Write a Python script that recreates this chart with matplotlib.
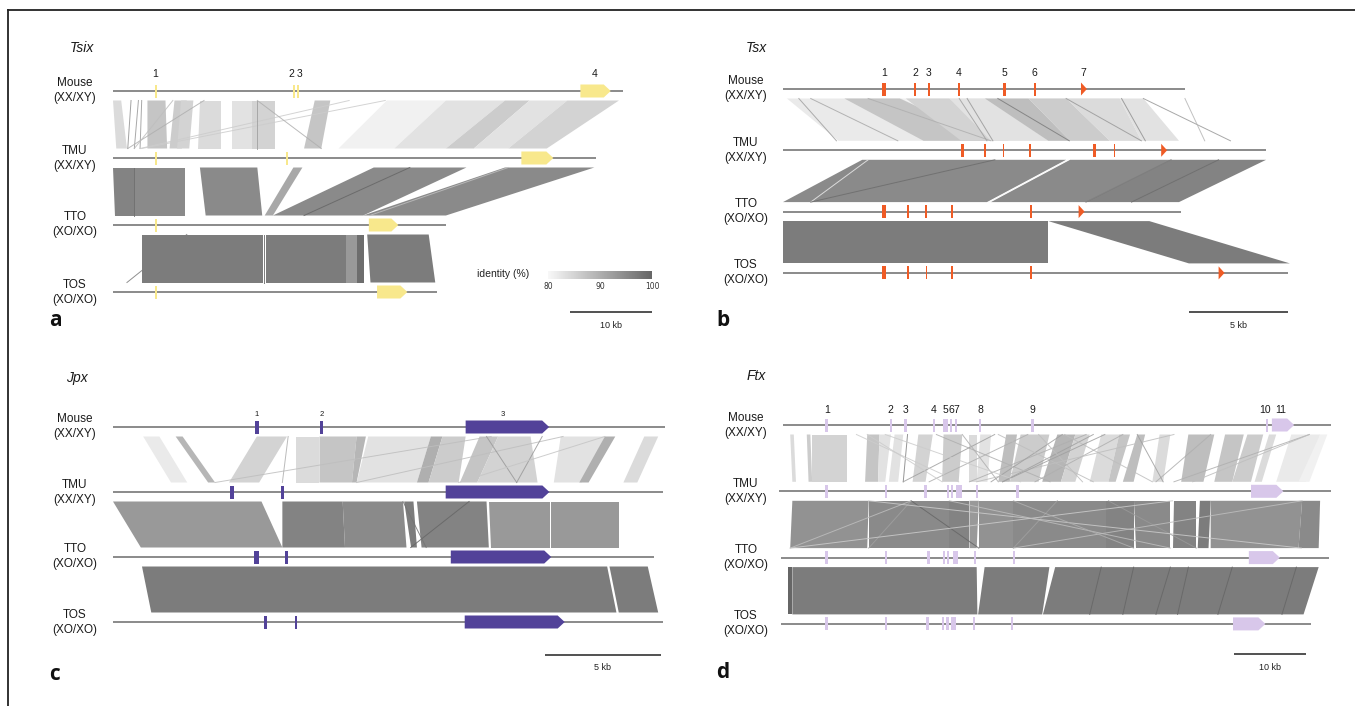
import matplotlib
matplotlib.use("Agg")
import matplotlib.pyplot as plt
from matplotlib.colors import LinearSegmentedColormap, Normalize
from matplotlib.patches import Polygon
from matplotlib.lines import Line2D
from matplotlib.colorbar import ColorbarBase

W, H = 1355, 706

species = ['Mouse', 'TMU', 'TTO', 'TOS']
karyotypes = ['(XX/XY)', '(XX/XY)', '(XO/XO)', '(XO/XO)']

# ---------------- a: Tsix (kb) ----------------
tsix_start = [0, 0, 0, 0]
tsix_len = [62.2, 58.9, 40.6, 39.5]
tsix_exons = [[(5.2, .25), (22.1, .25), (22.6, .25)],
              [(5.2, .25), (21.2, .3)],
              [(5.2, .25)],
              [(5.2, .25)]]
tsix_gene = [(57.0, 60.7), (49.8, 53.7), (31.2, 34.8), (32.2, 35.9)]
tsix_exon_names = ['1', '2', '3', '4']
tsix_exon_name_pos = [5.2, 21.8, 22.8, 58.7]
# (top start, top end, bottom start, bottom end, identity %)
tsix_bands = [
    [(0.0, 1.0, 0.4, 1.7, 84), (4.2, 6.4, 4.2, 6.6, 87), (7.5, 9.0, 6.9, 8.4, 86),
     (8.3, 9.8, 7.8, 9.3, 85), (10.6, 13.2, 10.4, 13.2, 84), (14.5, 17.0, 14.5, 17.0, 83),
     (17.0, 19.7, 17.0, 19.7, 85), (24.6, 26.5, 23.3, 25.4, 87),
     (33.4, 40.6, 27.5, 34.3, 81), (40.6, 47.8, 34.3, 40.6, 83), (47.8, 50.8, 40.6, 44.0, 86),
     (50.8, 55.4, 44.0, 48.2, 83), (55.4, 61.7, 48.2, 52.9, 85)],
    [(0.0, 2.6, 0.2, 2.6, 96), (2.6, 8.8, 2.6, 8.8, 95), (10.6, 17.6, 11.3, 18.2, 95),
     (22.0, 23.1, 18.5, 19.5, 91), (31.8, 43.1, 19.5, 30.5, 95), (47.8, 58.7, 30.5, 40.6, 95)],
    [(3.5, 18.3, 3.5, 18.3, 97), (18.6, 28.4, 18.6, 28.4, 97), (28.4, 29.8, 28.4, 29.8, 93),
     (29.8, 30.6, 29.8, 30.6, 99), (31.0, 38.5, 31.4, 39.3, 97)],
]
# (top position, bottom position, identity %)
tsix_links = [
    [(2.2, 1.8, 94), (3.1, 2.6, 93), (3.5, 3.3, 93), (11.1, 1.8, 90), (7.3, 2.6, 88),
     (28.8, 3.3, 86), (33.2, 3.5, 86), (17.6, 25.4, 90), (17.6, 17.6, 92)],
    [(36.2, 23.3, 100), (48.2, 31.3, 88), (2.6, 2.6, 99)],
    [(9.0, 1.7, 97), (18.45, 18.45, 100)],
]

# ---------------- b: Tsx (kb) ----------------
tsx_start = [0, 0, 0, 0]
tsx_len = [20.3, 24.4, 20.1, 25.5]
tsx_exons = [[(5.1, .17), (6.68, .085), (7.37, .085), (8.88, .12), (11.2, .14), (12.71, .1)],
             [(9.05, .17), (10.2, .085), (11.13, .085), (12.49, .12), (15.72, .17), (16.75, .085)],
             [(5.1, .17), (6.3, .085), (7.21, .085), (8.54, .1), (12.54, .1)],
             [(5.1, .17), (6.3, .085), (7.25, .085), (8.54, .1), (12.54, .1)]]
tsx_gene = [(15.05, 15.35), (19.1, 19.4), (14.93, 15.23), (22.0, 22.3)]
tsx_exon_names = ['1', '2', '3', '4', '5', '6', '7']
tsx_exon_name_pos = [5.1, 6.68, 7.37, 8.88, 11.2, 12.71, 15.15]
tsx_bands = [
    [(0.2, 6.0, 2.8, 10.5, 82), (6.0, 17.0, 10.5, 18.1, 81), (3.1, 5.9, 7.1, 10.5, 87),
     (6.2, 8.4, 9.0, 11.4, 85), (8.4, 10.3, 10.5, 13.4, 83), (10.2, 12.4, 13.4, 14.5, 88),
     (12.4, 14.3, 14.5, 16.5, 86), (14.3, 17.0, 16.5, 18.1, 84), (17.0, 18.2, 18.1, 20.0, 83)],
    [(4.0, 14.3, 0.0, 10.3, 95), (14.5, 19.6, 10.5, 15.3, 95), (19.6, 24.4, 15.3, 20.0, 96)],
    [(0.0, 13.4, 0.0, 13.4, 97), (13.4, 18.5, 20.5, 25.6, 97)],
]
tsx_links = [
    [(0.8, 2.7, 92), (1.4, 5.8, 91), (4.3, 10.5, 90), (9.3, 10.6, 93), (10.85, 14.46, 97),
     (17.1, 18.3, 94), (18.2, 22.6, 93), (20.3, 21.3, 89), (14.3, 18.1, 93), (8.9, 10.3, 92)],
    [(4.3, 1.4, 82), (10.7, 1.4, 99), (22.0, 17.6, 99), (19.6, 15.3, 98), (14.4, 10.4, 80)],
    [],
]

# ---------------- c: Jpx (kb) ----------------
jpx_start = [0, 0, 0, 0]
jpx_len = [23.8, 23.7, 23.3, 23.7]
jpx_exons = [[(6.21, .19), (8.99, .11)],
             [(5.14, .19), (7.31, .11)],
             [(6.18, .19), (7.47, .13)],
             [(6.57, .13), (7.9, .08)]]
jpx_gene = [(15.2, 18.8), (14.34, 18.81), (14.56, 18.89), (15.16, 19.47)]
jpx_exon_names = ['1', '2', '3']
jpx_exon_name_pos = [6.21, 8.99, 16.8]
jpx_bands = [
    [(1.3, 2.0, 2.5, 3.2, 82), (2.7, 3.0, 4.1, 4.4, 89), (6.2, 7.5, 5.0, 6.3, 85),
     (7.9, 8.9, 7.9, 8.9, 84), (8.9, 10.5, 8.9, 10.3, 87), (10.5, 10.9, 10.3, 10.5, 89),
     (11.0, 13.7, 10.5, 13.1, 83), (13.7, 14.2, 13.1, 13.6, 90), (14.2, 15.2, 13.6, 14.9, 86),
     (15.8, 16.6, 14.95, 15.7, 87), (16.6, 18.0, 15.7, 18.3, 85), (19.3, 21.2, 19.0, 20.2, 83),
     (21.2, 21.65, 20.1, 20.5, 90), (22.9, 23.5, 22.0, 22.6, 84)],
    [(0.0, 6.4, 1.2, 7.3, 93), (7.3, 9.9, 7.3, 10.0, 96), (9.9, 12.5, 10.0, 12.65, 95),
     (12.55, 12.95, 12.85, 13.1, 97), (13.1, 16.1, 13.3, 16.2, 96), (16.2, 18.85, 16.3, 18.85, 93),
     (18.9, 21.8, 18.9, 21.8, 93)],
    [(1.25, 21.3, 1.65, 21.7, 97), (21.4, 23.05, 21.8, 23.5, 97)],
]
jpx_links = [
    [(16.3, 4.4, 88), (19.4, 10.5, 88), (16.1, 17.4, 93), (18.5, 17.4, 93), (21.2, 14.9, 87),
     (7.55, 7.3, 90)],
    [(15.35, 12.83, 100), (12.5, 13.5, 98)],
    [],
]

# ---------------- d: Ftx (kb) ----------------
ftx_start = [0, -0.5, -0.26, -0.26]
ftx_len = [76.1, 76.1, 75.9, 73.3]
ftx_exons = [[(6.08, .4), (14.97, .35), (17.0, .35), (20.96, .35), (22.58, .6), (23.34, .3),
              (24.0, .35), (27.4, .3), (34.66, .35), (67.25, .3)],
             [(6.08, .4), (14.3, .3), (19.8, .35), (22.9, .3), (23.44, .3), (24.46, .8),
              (26.9, .3), (32.6, .35)],
             [(6.08, .4), (14.3, .3), (20.2, .35), (22.33, .3), (22.94, .3), (24.0, .7),
              (26.64, .3), (32.07, .35)],
             [(6.08, .4), (14.3, .3), (20.04, .35), (22.18, .3), (22.84, .3), (23.7, .7),
              (26.5, .3), (31.82, .35)]]
ftx_gene = [(67.9, 71.0), (65.0, 69.5), (64.7, 69.0), (62.5, 67.0)]
ftx_exon_names = ['1', '2', '3', '4', '5', '6', '7', '8', '9', '10', '11']
ftx_exon_name_pos = [6.08, 14.97, 17.0, 20.96, 22.6, 23.35, 24.1, 27.4, 34.66, 67.0, 69.1]
ftx_bands = [
    [(1.0, 1.5, 1.3, 1.8, 84), (3.3, 3.8, 3.55, 4.05, 86), (4.05, 8.9, 4.05, 8.9, 85),
     (11.7, 13.4, 11.4, 13.2, 87), (13.4, 15.0, 13.2, 14.2, 83), (15.5, 16.7, 14.7, 16.0, 83),
     (18.8, 20.8, 18.0, 19.8, 85), (22.3, 24.9, 22.1, 24.4, 86), (25.9, 26.9, 25.9, 26.9, 84),
     (27.4, 28.9, 26.9, 28.4, 83), (31.0, 32.5, 29.9, 31.5, 88), (33.0, 37.0, 31.5, 35.5, 86),
     (38.1, 40.6, 36.0, 38.6, 89), (40.6, 42.6, 38.6, 40.6, 85), (44.2, 46.7, 42.6, 45.2, 84),
     (46.7, 48.2, 45.2, 46.2, 87), (49.2, 50.3, 47.2, 48.7, 88), (52.3, 53.8, 51.3, 52.8, 84),
     (56.3, 59.9, 55.3, 58.4, 88), (61.4, 64.0, 59.9, 62.4, 87), (64.5, 66.7, 62.4, 65.0, 86),
     (67.5, 68.5, 65.5, 66.5, 84), (70.6, 74.6, 68.5, 72.6, 82), (74.6, 75.6, 71.6, 73.1, 81)],
    [(1.3, 11.9, 1.0, 11.7, 94), (11.9, 17.8, 11.9, 17.8, 95), (17.8, 23.1, 17.8, 23.1, 95),
     (23.1, 25.9, 23.1, 25.9, 96), (25.9, 27.2, 25.9, 26.9, 93), (27.2, 32.0, 27.2, 32.0, 94),
     (32.0, 39.6, 32.0, 39.6, 95), (39.6, 44.9, 39.6, 44.9, 95), (44.9, 48.7, 44.9, 48.7, 96),
     (48.7, 53.8, 49.0, 53.8, 95), (54.3, 57.4, 54.1, 57.4, 96), (57.9, 59.4, 57.6, 59.1, 97),
     (59.4, 72.1, 59.4, 71.6, 94), (72.1, 74.6, 71.6, 74.4, 95)],
    [(0.75, 1.3, 0.75, 1.3, 100), (1.3, 26.9, 1.3, 27.0, 97), (28.0, 37.0, 27.1, 36.0, 97),
     (37.8, 74.4, 36.1, 72.3, 97)],
]
ftx_links = [
    [(17.3, 16.7, 96), (21.3, 37.1, 90), (29.4, 16.7, 92), (24.9, 29.9, 90), (43.1, 30.5, 92),
     (42.1, 25.9, 90), (34.0, 20.3, 90), (38.8, 28.9, 92), (35.5, 41.6, 88), (39.1, 51.3, 88),
     (47.2, 35.0, 90), (73.1, 54.3, 90), (73.1, 56.9, 88), (59.4, 51.8, 90), (29.9, 43.1, 88),
     (54.3, 26.9, 88), (44.7, 30.5, 92), (10.2, 24.4, 86), (11.7, 22.1, 86), (14.2, 33.0, 86),
     (49.2, 52.8, 92)],
    [(17.8, 27.2, 100), (17.8, 11.9, 92), (17.8, 1.0, 88), (38.1, 32.0, 92), (45.2, 57.4, 93),
     (54.1, 1.0, 86), (11.9, 72.0, 86), (23.1, 53.8, 88), (72.1, 32.0, 88), (32.0, 48.7, 90)],
    [(44.2, 42.6, 100), (48.7, 47.2, 100), (53.8, 51.8, 100), (56.3, 54.8, 100),
     (62.4, 60.4, 100), (71.3, 69.3, 100)],
]

identity_cmap = LinearSegmentedColormap.from_list('identity', ['#f8f8f8', '#666666'])
norm = Normalize(80, 100)

fig = plt.figure(figsize=(W / 100, H / 100), dpi=100)
FONT = 'Liberation Sans'


def draw_panel(x0, s, y0, dy, starts, lengths, exons, genes, names, name_pos, bands, links,
               color, title, title_xy, letter, letter_xy, scale_kb, scale_y, label_x,
               name_dy=17, name_size=7.5, tri=False):
    ax = fig.add_axes([0, 0, 1, 1])
    ax.set_xlim(-x0 / s, (W - x0) / s)
    ax.set_ylim((H - y0) / dy, -y0 / dy)
    ax.axis('off')
    px = lambda p: (p - x0) / s
    py = lambda p: (p - y0) / dy
    g = 9.5 / dy

    for i in range(3):
        yt, yb = i + g, i + 1 - g
        for ts, te, bs, be, ident in bands[i]:
            ax.add_patch(Polygon([(ts, yt), (te, yt), (be, yb), (bs, yb)], closed=True,
                                 fc=identity_cmap(norm(ident)), ec='none', zorder=1))
        for t, b, ident in links[i]:
            ax.plot([t, b], [yt, yb], color=identity_cmap(norm(ident)), lw=0.7, alpha=0.85,
                    zorder=2)

    hh = 6.5 / dy
    tip = 7 / s
    for i in range(4):
        ax.plot([starts[i], lengths[i]], [i, i], color='#8a8a8a', lw=1.4,
                solid_capstyle='butt', zorder=3)
        for c, w in exons[i]:
            ax.add_patch(Polygon([(c - w / 2, i - hh), (c + w / 2, i - hh),
                                  (c + w / 2, i + hh), (c - w / 2, i + hh)],
                                 fc=color, ec='none', zorder=4))
        gs, ge = genes[i]
        if tri:
            pts = [(gs, i - hh), (ge, i), (gs, i + hh)]
        else:
            pts = [(gs, i - hh), (ge - tip, i - hh), (ge, i), (ge - tip, i + hh), (gs, i + hh)]
        ax.add_patch(Polygon(pts, closed=True, fc=color, ec='none', zorder=4))
        ax.text(px(label_x), i - 7.5 / dy, species[i], ha='center', va='center',
                fontsize=8.5, family=FONT, color='#1a1a1a')
        ax.text(px(label_x), i + 7.5 / dy, karyotypes[i], ha='center', va='center',
                fontsize=8.5, family=FONT, color='#1a1a1a')

    for n, p in zip(names, name_pos):
        ax.text(p, -name_dy / dy, n, ha='center', va='center', fontsize=name_size,
                family=FONT, color='#1a1a1a')

    ax.text(px(title_xy[0]), py(title_xy[1]), title, ha='center', va='center', fontsize=10,
            style='italic', family=FONT, color='#1a1a1a')
    ax.text(px(letter_xy[0]), py(letter_xy[1]), letter, ha='center', va='center', fontsize=15,
            weight='bold', family='Open Sans', color='#111111')

    se, sy = scale_kb
    ax.plot([se - scale_y, se], [py(sy), py(sy)], color='#333333', lw=1.2,
            solid_capstyle='butt')
    ax.text(se - scale_y / 2, py(sy + 13), '%g kb' % scale_y, ha='center', va='center',
            fontsize=6.5, family=FONT, color='#222222')
    return ax


draw_panel(113, 8.2, 91, 67, tsix_start, tsix_len, tsix_exons, tsix_gene,
           tsix_exon_names, tsix_exon_name_pos, tsix_bands, tsix_links, '#f8e88c',
           'Tsix', (82, 48), 'a', (55, 321), (65.7, 312), 10, 75)
draw_panel(783, 19.8, 89, 61.3, tsx_start, tsx_len, tsx_exons, tsx_gene,
           tsx_exon_names, tsx_exon_name_pos, tsx_bands, tsx_links, '#ef5b25',
           'Tsx', (756, 48), 'b', (723, 321), (25.5, 312), 5, 746, name_dy=16, tri=True)
draw_panel(113, 23.2, 427, 65, jpx_start, jpx_len, jpx_exons, jpx_gene,
           jpx_exon_names, jpx_exon_name_pos, jpx_bands, jpx_links, '#524299',
           'Jpx', (77, 378), 'c', (55, 674), (23.6, 655), 5, 75, name_dy=13, name_size=5.5)
draw_panel(783, 7.2, 425, 66.3, ftx_start, ftx_len, ftx_exons, ftx_gene,
           ftx_exon_names, ftx_exon_name_pos, ftx_bands, ftx_links, '#d8c7ea',
           'Ftx', (756, 376), 'd', (723, 673), (72.7, 654), 10, 746, name_dy=15)

# identity colour key (panel a)
cax = fig.add_axes([548 / W, 1 - 279 / H, 104 / W, 8 / H])
cb = ColorbarBase(cax, cmap=identity_cmap, norm=norm, orientation='horizontal',
                  ticks=[80, 90, 100])
cb.outline.set_visible(False)
cax.tick_params(length=0, labelsize=5.5, pad=2, colors='#333333')
fig.text(529 / W, 1 - 274 / H, 'identity (%)', ha='right', va='center', fontsize=7.5,
         family=FONT, color='#222222')

# frame
fig.add_artist(Line2D([8 / W, 1], [1 - 10 / H, 1 - 10 / H], color='#222222', lw=1.3))
fig.add_artist(Line2D([8 / W, 8 / W], [0, 1 - 10 / H], color='#222222', lw=1.3))

fig.savefig('out.png', dpi=100)
